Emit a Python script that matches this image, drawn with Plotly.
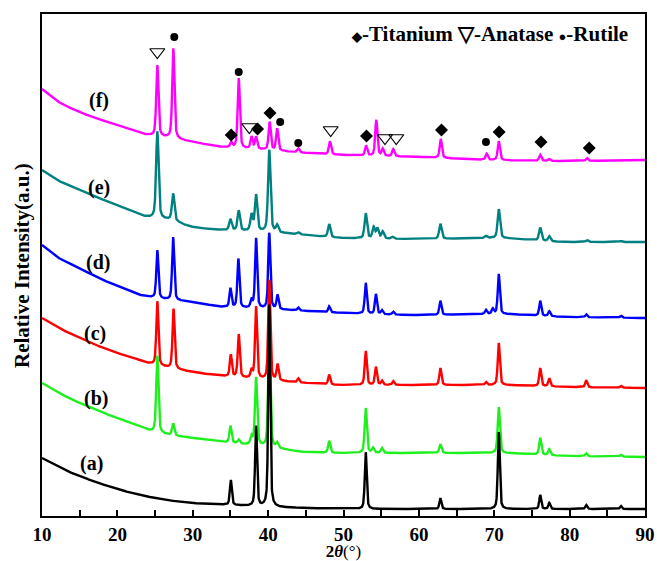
import numpy as np
import plotly.graph_objects as go

# ---------------- data ----------------
# Baseline knots (2theta in degrees, intensity in a.u.) for each sample
BASE_A_X = [10, 11, 12, 13, 15, 17.5, 20, 22.5, 25, 27.5, 30, 35, 40, 45, 50, 90]
BASE_A_Y = [58, 54, 50, 46, 40, 33, 27, 22, 18, 15, 13, 11, 9, 8, 7, 7]

BASE_B_X = [10, 12, 15, 17.5, 20, 22.5, 24, 27, 30, 34, 40, 45, 50, 60, 70, 80, 90]
BASE_B_Y = [133, 124, 113, 105, 98, 91, 86, 81, 78, 74, 69, 64, 63, 63, 63, 60, 59]

BASE_C_X = [10, 12, 15, 17.5, 20, 22.5, 24, 27, 30, 34, 40, 45, 50, 70, 80, 90]
BASE_C_Y = [198, 189, 178, 170, 163, 157, 153, 148, 144, 140, 136, 133, 131, 131, 129, 128]

BASE_D_X = [10, 12, 15, 17.5, 20, 23, 27, 30, 34, 40, 45, 50, 60, 70, 80, 90]
BASE_D_Y = [271, 259, 248, 238, 230, 221, 216, 214, 209, 207, 205, 203, 201, 202, 199, 198]

BASE_E_X = [10, 12, 15, 17.5, 20, 24, 27, 30, 34, 40, 45, 50, 60, 70, 80, 90]
BASE_E_Y = [346, 336, 326, 318, 311, 299, 296, 289, 286, 284, 281, 278, 277, 278, 274, 274]

BASE_F_X = [10, 12, 15, 17.5, 20, 24, 27, 30, 34, 40, 45, 50, 60, 70, 80, 90]
BASE_F_Y = [427, 415, 404, 397, 391, 381, 378, 374, 369, 366, 363, 361, 359, 356, 355, 356]

# Diffraction peaks: position (2theta) and height above baseline
PEAKS_A_POS = [35.05, 38.4, 40.15, 52.95, 62.85, 70.6, 76.1, 77.3, 82.2, 86.8]
PEAKS_A_H = [25, 80, 203, 57, 11, 77, 14, 6, 4, 3]

PEAKS_B_POS = [25.3, 27.4, 35.0, 36.1, 37.8, 38.4, 40.15, 41.2, 48.1, 52.95, 53.9,
               55.1, 62.85, 70.6, 76.1, 77.3, 82.2, 86.8]
PEAKS_B_H = [77, 12, 17, 4, 8, 68, 110, 5, 12, 45, 5, 5, 9, 46, 17, 6, 3, 2]

PEAKS_C_POS = [25.3, 27.45, 35.05, 36.1, 37.8, 38.4, 40.15, 41.25, 44.0, 48.1, 52.95,
               54.3, 55.1, 56.6, 62.85, 68.9, 70.6, 76.1, 77.3, 82.2, 86.8]
PEAKS_C_H = [64, 60, 22, 43, 8, 72, 100, 16, 4, 10, 34, 18, 4, 4, 17, 3, 42, 18, 8, 7, 2]

PEAKS_D_POS = [25.3, 27.4, 35.0, 36.05, 37.8, 38.4, 40.15, 41.25, 44.0, 48.1, 52.95,
               54.3, 55.1, 56.6, 62.85, 68.9, 69.8, 70.6, 76.1, 77.3, 82.2, 86.8]
PEAKS_D_H = [48, 63, 19, 49, 8, 70, 76, 14, 3, 6, 31, 20, 4, 3, 14, 4, 5, 40, 15, 5, 3, 2]

PEAKS_E_POS = [25.3, 27.4, 35.0, 36.1, 37.8, 38.4, 40.15, 41.2, 44.0, 48.1, 52.95,
               54.0, 54.5, 55.2, 56.5, 62.85, 68.9, 70.6, 76.1, 77.3, 82.3, 86.8]
PEAKS_E_H = [87, 27, 11, 20, 16, 36, 82, 7, 2, 13, 25, 11, 10, 7, 2, 15, 2, 29, 13, 5, 2, 1]

PEAKS_F_POS = [25.3, 27.42, 35.1, 36.1, 37.8, 38.4, 40.2, 41.2, 44.0, 48.2, 53.0,
               54.35, 55.2, 56.6, 62.9, 69.0, 70.6, 76.1, 77.3, 82.3]
PEAKS_F_H = [71, 90, 5, 70, 12, 12, 28, 22, 4, 13, 10, 36, 7, 7, 19, 6, 19, 6, 2, 3]

SAMPLE_LABELS = ["(a)", "(b)", "(c)", "(d)", "(e)", "(f)"]

# Phase identification marks on pattern (f)
TITANIUM_POS = [35.1, 38.6, 40.25, 53.05, 63.0, 70.65, 76.2, 82.6]
ANATASE_POS = [25.3, 37.5, 48.3, 55.5, 57.0]
RUTILE_POS = [27.55, 36.1, 41.6, 44.0, 68.9]

X_TICKS = [10, 20, 30, 40, 50, 60, 70, 80, 90]

# ---------------- drawing ----------------
FONT = "Liberation Serif"
grid = np.arange(10.0, 90.0001, 0.02)


def pchip(xk, yk, x):
    """Monotone cubic interpolation of the baseline knots."""
    xk = np.asarray(xk, float)
    yk = np.asarray(yk, float)
    h = np.diff(xk)
    dlt = np.diff(yk) / h
    m = np.zeros_like(yk)
    for i in range(1, len(xk) - 1):
        if dlt[i - 1] * dlt[i] > 0:
            w1 = 2 * h[i] + h[i - 1]
            w2 = h[i] + 2 * h[i - 1]
            m[i] = (w1 + w2) / (w1 / dlt[i - 1] + w2 / dlt[i])
    m[0] = dlt[0]
    m[-1] = dlt[-1]
    idx = np.clip(np.searchsorted(xk, x) - 1, 0, len(xk) - 2)
    t = (x - xk[idx]) / h[idx]
    h00 = 2 * t**3 - 3 * t**2 + 1
    h10 = t**3 - 2 * t**2 + t
    h01 = -2 * t**3 + 3 * t**2
    h11 = t**3 - t**2
    return (h00 * yk[idx] + h10 * h[idx] * m[idx] + h01 * yk[idx + 1]
            + h11 * h[idx] * m[idx + 1])


def pattern(bx, by, pos, h, fwhm=0.32, eta=0.5):
    y = pchip(bx, by, grid)
    hw = fwhm / 2.0
    for c, a in zip(pos, h):
        d = (grid - c) / hw
        y = y + a * (eta / (1 + d * d) + (1 - eta) * np.exp(-np.log(2) * d * d))
    return y


samples = [
    (BASE_A_X, BASE_A_Y, PEAKS_A_POS, PEAKS_A_H, "#000000", 0.30),
    (BASE_B_X, BASE_B_Y, PEAKS_B_POS, PEAKS_B_H, "#1EF01E", 0.34),
    (BASE_C_X, BASE_C_Y, PEAKS_C_POS, PEAKS_C_H, "#FF0000", 0.32),
    (BASE_D_X, BASE_D_Y, PEAKS_D_POS, PEAKS_D_H, "#0000FF", 0.32),
    (BASE_E_X, BASE_E_Y, PEAKS_E_POS, PEAKS_E_H, "#008080", 0.38),
    (BASE_F_X, BASE_F_Y, PEAKS_F_POS, PEAKS_F_H, "#FF00FF", 0.34),
]

fig = go.Figure()
# top pattern first so the lower patterns sit in front
for bx, by, pos, h, col, w in reversed(samples):
    fig.add_trace(go.Scatter(x=grid, y=pattern(bx, by, pos, h, fwhm=w), mode="lines",
                             line=dict(color=col, width=2.4), hoverinfo="skip",
                             showlegend=False))

# phase marks and their heights above the patterns
ti_y = [381, 387, 403, 380, 386, 384, 374, 368]
an_y = [464, 389, 386, 378, 378]
ru_y = [479, 444, 394, 373, 374]
fig.add_trace(go.Scatter(x=TITANIUM_POS, y=ti_y, mode="markers", showlegend=False,
                         marker=dict(symbol="diamond", size=10, color="black")))
fig.add_trace(go.Scatter(x=ANATASE_POS, y=an_y, mode="markers", showlegend=False,
                         marker=dict(symbol="triangle-down-open", size=13, color="black",
                                     line=dict(width=1.2, color="black"))))
fig.add_trace(go.Scatter(x=RUTILE_POS, y=ru_y, mode="markers", showlegend=False,
                         marker=dict(symbol="circle", size=8, color="black")))

# plot-area geometry in pixels, used to place paper-referenced texts
PLOT_L, PLOT_T, PLOT_W, PLOT_H = 42, 14, 603, 502


def px(xp):
    return (xp - PLOT_L) / PLOT_W


def py(yp):
    return (PLOT_T + PLOT_H - yp) / PLOT_H


annos = []
label_pos = [(16.6, 53), (17.1, 118), (17.0, 183), (17.4, 254), (17.5, 329), (17.5, 416)]
for lab, (lx, ly) in zip(SAMPLE_LABELS, label_pos):
    annos.append(dict(x=lx, y=ly, text=f"<b>{lab}</b>", showarrow=False,
                      font=dict(family=FONT, size=20, color="black")))

small = '<span style="font-size:13px">{}</span>'
tri = '<span style="font-size:21px">{}</span>'
legend_text = ("<b>" + small.format("◆") + "-Titanium " + tri.format("▽")
               + "-Anatase " + small.format("●") + "-Rutile</b>")
annos.append(dict(x=px(489), y=py(34), xref="paper", yref="paper",
                  xanchor="center", yanchor="middle", text=legend_text, showarrow=False,
                  font=dict(family=FONT, size=21, color="black")))
annos.append(dict(x=px(22), y=py(266), xref="paper", yref="paper",
                  xanchor="center", yanchor="middle", textangle=-90,
                  text="<b>Relative Intensity(a.u.)</b>", showarrow=False,
                  font=dict(family=FONT, size=21, color="black")))
fig.update_layout(annotations=annos)

fig.update_layout(
    width=657, height=561,
    margin=dict(l=PLOT_L, r=657 - PLOT_L - PLOT_W, t=PLOT_T, b=561 - PLOT_T - PLOT_H),
    paper_bgcolor="white", plot_bgcolor="white",
    xaxis=dict(range=[10, 90], tickvals=X_TICKS, ticktext=[str(v) for v in X_TICKS],
               ticks="inside", ticklen=6, tickwidth=1.5, tickcolor="black",
               minor=dict(tickvals=[15, 25, 35, 45, 55, 65, 75, 85], ticks="inside",
                          ticklen=6, tickwidth=1.5, tickcolor="black"),
               showline=True, linewidth=2, linecolor="black", mirror=True,
               showgrid=False, zeroline=False, automargin=False,
               tickfont=dict(family=FONT, size=19, color="black", weight="bold"),
               title=dict(text="<b>2<i>θ</i></b>(°)", standoff=0,
                          font=dict(family=FONT, size=17, color="black"))),
    yaxis=dict(range=[0, 502], showticklabels=False, ticks="",
               showline=True, linewidth=2, linecolor="black", mirror=True,
               showgrid=False, zeroline=False, automargin=False),
)

fig.write_html("out.html")
